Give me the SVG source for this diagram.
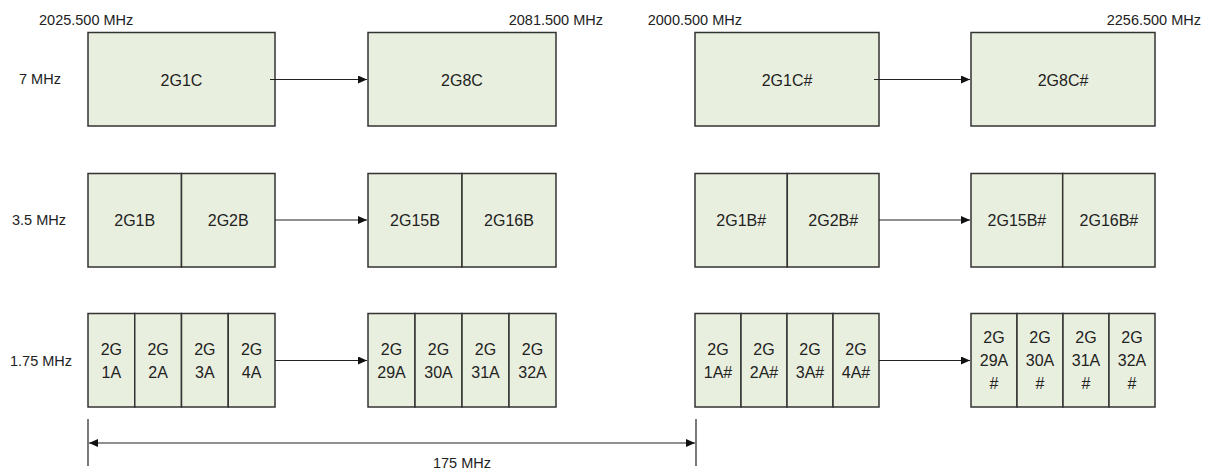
<svg xmlns="http://www.w3.org/2000/svg" width="1213" height="471" viewBox="0 0 1213 471">
<style>
.cell{fill:#E9EFDE;stroke:#333;stroke-width:1.5}
.lbl{font-family:"Liberation Sans",Arial,sans-serif;font-size:16px;fill:#222;text-anchor:middle}
.ax{font-family:"Liberation Sans",Arial,sans-serif;font-size:14.5px;fill:#222}
.con{stroke:#222;stroke-width:1.2;fill:none}
</style>
<defs>
<marker id="ah" markerWidth="9" markerHeight="8" refX="9" refY="4" orient="auto" markerUnits="userSpaceOnUse">
<path d="M0,0 L9,4 L0,8 Z" fill="#111"/>
</marker>
<marker id="ahs" markerWidth="9" markerHeight="8" refX="0" refY="4" orient="auto" markerUnits="userSpaceOnUse">
<path d="M9,0 L0,4 L9,8 Z" fill="#111"/>
</marker>
</defs>

<g id="axis-labels">
<text class="ax" x="39" y="25">2025.500 MHz</text>
<text class="ax" x="603" y="25" text-anchor="end">2081.500 MHz</text>
<text class="ax" x="742" y="25" text-anchor="end">2000.500 MHz</text>
<text class="ax" x="1201" y="25" text-anchor="end">2256.500 MHz</text>
<text class="ax" x="19" y="84">7 MHz</text>
<text class="ax" x="12" y="225">3.5 MHz</text>
<text class="ax" x="10" y="366">1.75 MHz</text>
<text class="ax" x="462" y="468" text-anchor="middle">175 MHz</text>
</g>

<!-- Row 1 -->
<g id="n-2G1C"><rect class="cell" x="88" y="32.5" width="187" height="93.5"/><text class="lbl" x="181.5" y="86">2G1C</text></g>
<g id="n-2G8C"><rect class="cell" x="368" y="32.5" width="188" height="93.5"/><text class="lbl" x="462" y="86">2G8C</text></g>
<g id="n-2G1Cs"><rect class="cell" x="695" y="32.5" width="184" height="93.5"/><text class="lbl" x="787" y="86">2G1C#</text></g>
<g id="n-2G8Cs"><rect class="cell" x="971" y="32.5" width="184" height="93.5"/><text class="lbl" x="1063" y="86">2G8C#</text></g>

<!-- Row 2 -->
<g id="n-2G1B"><rect class="cell" x="88" y="173.5" width="93.5" height="93.5"/><text class="lbl" x="134.7" y="226">2G1B</text></g>
<g id="n-2G2B"><rect class="cell" x="181.5" y="173.5" width="93.5" height="93.5"/><text class="lbl" x="228.2" y="226">2G2B</text></g>
<g id="n-2G15B"><rect class="cell" x="368" y="173.5" width="94" height="93.5"/><text class="lbl" x="415" y="226">2G15B</text></g>
<g id="n-2G16B"><rect class="cell" x="462" y="173.5" width="94" height="93.5"/><text class="lbl" x="509" y="226">2G16B</text></g>
<g id="n-2G1Bs"><rect class="cell" x="695" y="173.5" width="92.3" height="93.5"/><text class="lbl" x="741.2" y="226">2G1B#</text></g>
<g id="n-2G2Bs"><rect class="cell" x="787.3" y="173.5" width="91.7" height="93.5"/><text class="lbl" x="833.2" y="226">2G2B#</text></g>
<g id="n-2G15Bs"><rect class="cell" x="971" y="173.5" width="91.7" height="93.5"/><text class="lbl" x="1016.9" y="226">2G15B#</text></g>
<g id="n-2G16Bs"><rect class="cell" x="1062.7" y="173.5" width="92.3" height="93.5"/><text class="lbl" x="1108.9" y="226">2G16B#</text></g>

<!-- Row 3 left -->
<g id="n-2G1A"><rect class="cell" x="88" y="313.5" width="46.75" height="93.5"/><text class="lbl" x="111.4" y="355">2G</text><text class="lbl" x="111.4" y="377.7">1A</text></g>
<g id="n-2G2A"><rect class="cell" x="134.75" y="313.5" width="46.75" height="93.5"/><text class="lbl" x="158.1" y="355">2G</text><text class="lbl" x="158.1" y="377.7">2A</text></g>
<g id="n-2G3A"><rect class="cell" x="181.5" y="313.5" width="46.75" height="93.5"/><text class="lbl" x="204.9" y="355">2G</text><text class="lbl" x="204.9" y="377.7">3A</text></g>
<g id="n-2G4A"><rect class="cell" x="228.25" y="313.5" width="46.75" height="93.5"/><text class="lbl" x="251.6" y="355">2G</text><text class="lbl" x="251.6" y="377.7">4A</text></g>

<g id="n-2G29A"><rect class="cell" x="368" y="313.5" width="47" height="93.5"/><text class="lbl" x="391.5" y="355">2G</text><text class="lbl" x="391.5" y="377.7">29A</text></g>
<g id="n-2G30A"><rect class="cell" x="415" y="313.5" width="47" height="93.5"/><text class="lbl" x="438.5" y="355">2G</text><text class="lbl" x="438.5" y="377.7">30A</text></g>
<g id="n-2G31A"><rect class="cell" x="462" y="313.5" width="47" height="93.5"/><text class="lbl" x="485.5" y="355">2G</text><text class="lbl" x="485.5" y="377.7">31A</text></g>
<g id="n-2G32A"><rect class="cell" x="509" y="313.5" width="47" height="93.5"/><text class="lbl" x="532.5" y="355">2G</text><text class="lbl" x="532.5" y="377.7">32A</text></g>

<!-- Row 3 right -->
<g id="n-2G1As"><rect class="cell" x="695" y="313.5" width="46" height="93.5"/><text class="lbl" x="718" y="355">2G</text><text class="lbl" x="718" y="377.7">1A#</text></g>
<g id="n-2G2As"><rect class="cell" x="741" y="313.5" width="46" height="93.5"/><text class="lbl" x="764" y="355">2G</text><text class="lbl" x="764" y="377.7">2A#</text></g>
<g id="n-2G3As"><rect class="cell" x="787" y="313.5" width="46" height="93.5"/><text class="lbl" x="810" y="355">2G</text><text class="lbl" x="810" y="377.7">3A#</text></g>
<g id="n-2G4As"><rect class="cell" x="833" y="313.5" width="46" height="93.5"/><text class="lbl" x="856" y="355">2G</text><text class="lbl" x="856" y="377.7">4A#</text></g>

<g id="n-2G29As"><rect class="cell" x="971" y="313.5" width="46" height="93.5"/><text class="lbl" x="994" y="342.7">2G</text><text class="lbl" x="994" y="366">29A</text><text class="lbl" x="994" y="389.3">#</text></g>
<g id="n-2G30As"><rect class="cell" x="1017" y="313.5" width="46" height="93.5"/><text class="lbl" x="1040" y="342.7">2G</text><text class="lbl" x="1040" y="366">30A</text><text class="lbl" x="1040" y="389.3">#</text></g>
<g id="n-2G31As"><rect class="cell" x="1063" y="313.5" width="46" height="93.5"/><text class="lbl" x="1086" y="342.7">2G</text><text class="lbl" x="1086" y="366">31A</text><text class="lbl" x="1086" y="389.3">#</text></g>
<g id="n-2G32As"><rect class="cell" x="1109" y="313.5" width="46" height="93.5"/><text class="lbl" x="1132" y="342.7">2G</text><text class="lbl" x="1132" y="366">32A</text><text class="lbl" x="1132" y="389.3">#</text></g>

<g id="connectors">
<line class="con" x1="270" y1="79.5" x2="367" y2="79.5" marker-end="url(#ah)"/>
<line class="con" x1="275" y1="220" x2="367" y2="220" marker-end="url(#ah)"/>
<line class="con" x1="275" y1="360.5" x2="367" y2="360.5" marker-end="url(#ah)"/>
<line class="con" x1="874" y1="79.5" x2="970" y2="79.5" marker-end="url(#ah)"/>
<line class="con" x1="879" y1="220" x2="970" y2="220" marker-end="url(#ah)"/>
<line class="con" x1="879" y1="360.5" x2="970" y2="360.5" marker-end="url(#ah)"/>
<line class="con" x1="88" y1="419" x2="88" y2="466"/>
<line class="con" x1="696" y1="419" x2="696" y2="466"/>
<line class="con" x1="89" y1="443" x2="695" y2="443" marker-start="url(#ahs)" marker-end="url(#ah)"/>
</g>
</svg>
